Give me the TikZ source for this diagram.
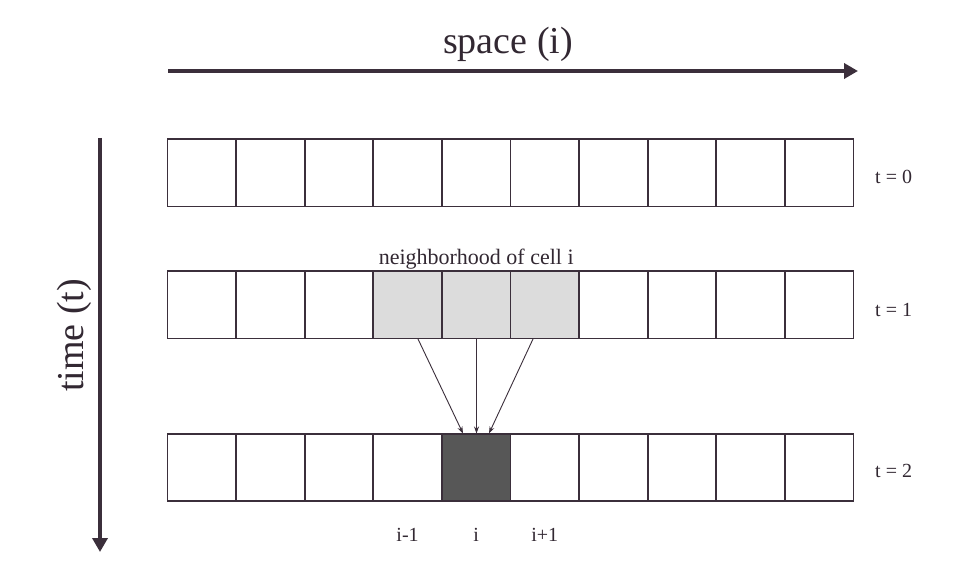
\documentclass[tikz,border=0pt]{standalone}
\usepackage{fontspec}
\setmainfont{Liberation Serif}
\usetikzlibrary{arrows.meta}
\definecolor{ln}{HTML}{3B2F3B}
\definecolor{nb}{HTML}{DCDCDC}
\definecolor{dk}{HTML}{575757}
\tikzset{
  cellbox/.style={draw=ln, line width=1.8pt, minimum width=68.6pt, minimum height=67.5pt, inner sep=0pt, fill=white},
  axisarrow/.style={draw=ln, line width=4.3pt, -{Triangle[length=14pt,width=15pt]}},
  infl/.style={draw=ln, line width=0.9pt, -{Stealth[length=7pt,width=5pt]}},
  biglbl/.style={font=\fontsize{38}{41}\selectfont, text=ln!85!black, inner sep=0pt},
  smalllbl/.style={font=\fontsize{20}{22}\selectfont, text=ln!85!black, inner sep=0pt}
}
\begin{document}
\begin{tikzpicture}[x=1pt,y=-1pt]
\useasboundingbox (0,0) rectangle (954,572);
\fill[white] (0,0) rectangle (954,572);
% rows of cells
\foreach \r/\y in {0/172.7,1/304.8,2/467.5}{
  \foreach \k in {0,...,9}{
    \pgfmathsetmacro{\cx}{167.5+(\k+0.5)*68.6}
    \node[cellbox] (r\r c\k) at (\cx,\y) {};
  }
}
% neighborhood
\foreach \k in {3,4,5}{\node[cellbox, fill=nb] at (r1c\k) {};}
\node[cellbox, fill=dk] at (r2c4) {};
% time labels
\node[smalllbl, anchor=west] (t0) at (875,176.5) {t = 0};
\node[smalllbl, anchor=west] (t1) at (875,310) {t = 1};
\node[smalllbl, anchor=west] (t2) at (875,471) {t = 2};
% neighborhood label
\node[font=\fontsize{22}{24}\selectfont, text=ln!85!black, inner sep=0pt, anchor=base] (nbl) at (r1c4.north |- 0,265) {neighborhood of cell i};
% index labels
\node[smalllbl] (lm) at (r2c3 |- 0,535) {i-1};
\node[smalllbl] (li) at (r2c4 |- 0,535) {i};
\node[smalllbl] (lp) at (r2c5 |- 0,535) {i+1};
% axes
\coordinate (sx0) at (168,71);
\coordinate (sx1) at (858,71);
\draw[axisarrow] (sx0) -- (sx1);
\node[biglbl, anchor=base] (space) at (508,54) {space (i)};
\coordinate (ty0) at (100,138);
\coordinate (ty1) at (100,552);
\draw[axisarrow] (ty0) -- (ty1);
\node[biglbl, rotate=90, anchor=base] (time) at (83,335.5) {time (t)};
% influence arrows
\coordinate (a1) at (418,339);
\coordinate (a2) at (476.5,339);
\coordinate (a3) at (533,339);
\coordinate (b1) at (463,433.5);
\coordinate (b2) at (476.5,433.5);
\coordinate (b3) at (489,433.5);
\draw[infl] (a1) -- (b1);
\draw[infl] (a2) -- (b2);
\draw[infl] (a3) -- (b3);
\end{tikzpicture}
\end{document}
